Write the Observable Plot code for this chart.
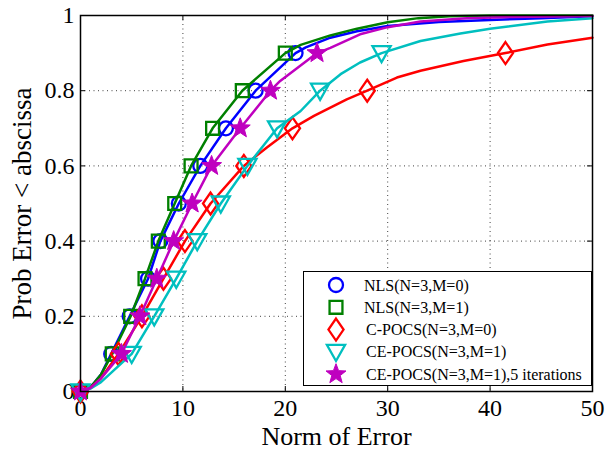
<!DOCTYPE html>
<html><head><meta charset="utf-8">
<script src="https://cdn.jsdelivr.net/npm/d3@7"></script>
<script src="https://cdn.jsdelivr.net/npm/@observablehq/plot@0.6"></script>
<style>
body{margin:0;background:#fff;}
#wrap{position:relative;width:606px;height:450px;}
#legend{position:absolute;left:303px;top:271px;width:289px;height:115px;box-sizing:border-box;border:1.3px solid #000;background:#fff;}
</style></head><body><div id="wrap"></div>
<script>
// ---- data ----
const xTicks = [0, 10, 20, 30, 40, 50];
const yTicks = [0, 0.2, 0.4, 0.6, 0.8, 1];
const yTickLabels = ["0", "0.2", "0.4", "0.6", "0.8", "1"];
const xGrid = [10, 20, 30, 40];
const yGrid = [0.2, 0.4, 0.6, 0.8];
const markerLevels = [0, 0.1, 0.2, 0.3, 0.4, 0.5, 0.6, 0.7, 0.8, 0.9];
const xLabel = "Norm of Error";
const yLabel = "Prob Error < abscissa";

const seriesNames = ["NLS(N=3,M=0)", "NLS(N=3,M=1)", "C-POCS(N=3,M=0)", "CE-POCS(N=3,M=1)", "CE-POCS(N=3,M=1),5 iterations"];
const seriesColors = ["#0000ff", "#008000", "#ff0000", "#00bfbf", "#bf00bf"];

// marker x positions (at markerLevels)
const nlsM0MarkerX   = [0, 3.0, 4.8, 6.6, 7.8, 9.6, 11.7, 14.2, 17.1, 21.0];
const nlsM1MarkerX   = [0, 3.1, 4.9, 6.3, 7.6, 9.2, 10.8, 12.9, 15.8, 20.0];
const cpocsMarkerX   = [0, 3.7, 6.0, 8.1, 10.2, 12.7, 15.95, 20.7, 28.0, 41.5];
const cepocsMarkerX  = [0, 5.0, 7.2, 9.35, 11.4, 13.7, 16.3, 19.2, 23.4, 29.4];
const cepocs5MarkerX = [0, 4.0, 5.8, 7.45, 9.1, 10.9, 12.8, 15.6, 18.55, 23.1];

// CDF curves [x, p]
const nlsM0Line = [[0,0],[1,0.012],[2,0.045],[3.0,0.1],[4.8,0.2],[6.6,0.3],[7.8,0.4],[9.6,0.5],[11.7,0.6],[14.2,0.7],[17.1,0.8],[21.0,0.9],[22,0.915],[24.4,0.941],[27,0.958],[30,0.972],[35,0.983],[40,0.988],[45,0.993],[50,0.998]];
const nlsM1Line = [[0,0],[1,0.012],[2,0.045],[3.1,0.1],[4.9,0.2],[6.3,0.3],[7.6,0.4],[9.2,0.5],[10.8,0.6],[12.9,0.7],[15.8,0.8],[20.0,0.9],[21.5,0.922],[24.4,0.947],[27,0.965],[30,0.982],[33,0.993],[36,0.998],[40,1],[50,1]];
const cpocsLine = [[0,0],[1,0.01],[2,0.035],[3.7,0.1],[6.0,0.2],[8.1,0.3],[10.2,0.4],[12.7,0.5],[15.95,0.6],[18.2,0.649],[20.7,0.7],[22.8,0.733],[26.0,0.777],[28.0,0.8],[30.9,0.835],[33.2,0.853],[37.4,0.879],[41.5,0.9],[45.6,0.923],[50,0.941]];
const cepocsLine = [[0,0],[1,0.008],[2,0.025],[5.0,0.1],[7.2,0.2],[9.35,0.3],[11.4,0.4],[13.7,0.5],[16.3,0.6],[19.2,0.7],[21.5,0.746],[23.4,0.8],[25.4,0.844],[27.3,0.875],[29.4,0.9],[33.2,0.932],[37.1,0.952],[40,0.965],[45.6,0.984],[50,0.993]];
const cepocs5Line = [[0,0],[1,0.01],[2,0.035],[4.0,0.1],[5.8,0.2],[7.45,0.3],[9.1,0.4],[10.9,0.5],[12.8,0.6],[15.6,0.7],[18.55,0.8],[19.5,0.826],[23.1,0.9],[24.4,0.914],[27.3,0.95],[30,0.969],[33.2,0.984],[37.7,0.993],[42.2,0.996],[50,0.999]];

// ---- symbols ----
const rOf = s => Math.sqrt(s / Math.PI);
const symCircle = {draw(c, s){ const r = rOf(s); c.moveTo(r, 0); c.arc(0, 0, r, 0, 2 * Math.PI); c.closePath(); }};
const symSquare = {draw(c, s){ const r = rOf(s) * 0.92; c.moveTo(-r,-r); c.lineTo(r,-r); c.lineTo(r,r); c.lineTo(-r,r); c.closePath(); }};
const symDiamond = {draw(c, s){ const r = rOf(s) * 1.08; const h = r * 1.45; c.moveTo(0,-h); c.lineTo(r,0); c.lineTo(0,h); c.lineTo(-r,0); c.closePath(); }};
const symTriDown = {draw(c, s){ const r = rOf(s); const w = r * 1.3; c.moveTo(-w,-r); c.lineTo(w,-r); c.lineTo(0, r * 1.3); c.closePath(); }};
const symStar = {draw(c, s){ const R = rOf(s) * 1.5, ri = R * 0.42;
  for (let i = 0; i < 10; i++) { const a = -Math.PI/2 + i * Math.PI/5; const rr = i % 2 ? ri : R;
    const px = rr * Math.cos(a), py = rr * Math.sin(a); if (i) c.lineTo(px, py); else c.moveTo(px, py); }
  c.closePath(); }};

const series = [
  {line: nlsM0Line, mx: nlsM0MarkerX, sym: symCircle, filled: false},
  {line: nlsM1Line, mx: nlsM1MarkerX, sym: symSquare, filled: false},
  {line: cpocsLine, mx: cpocsMarkerX, sym: symDiamond, filled: false},
  {line: cepocsLine, mx: cepocsMarkerX, sym: symTriDown, filled: false},
  {line: cepocs5Line, mx: cepocs5MarkerX, sym: symStar, filled: true}
].map((s, i) => ({...s, name: seriesNames[i], color: seriesColors[i]}));

const W = 606, H = 450, mL = 80, mR = 14, mT = 15, mB = 59;
const pw = W - mL - mR, ph = H - mT - mB;
const R0 = 7;

const marks = [
  Plot.ruleX(xGrid, {x: d => d, stroke: "#000", strokeWidth: 1, strokeDasharray: "1,3.5", strokeOpacity: 0.75}),
  Plot.ruleY(yGrid, {y: d => d, stroke: "#000", strokeWidth: 1, strokeDasharray: "1,3.5", strokeOpacity: 0.75}),
  Plot.tickX(xTicks, {x: d => d, insetTop: ph - 5, stroke: "#000"}),
  Plot.tickX(xTicks, {x: d => d, insetBottom: ph - 5, stroke: "#000"}),
  Plot.tickY(yTicks, {y: d => d, insetRight: pw - 5, stroke: "#000"}),
  Plot.tickY(yTicks, {y: d => d, insetLeft: pw - 5, stroke: "#000"})
];
for (const s of series) {
  marks.push(Plot.line(s.line, {x: d => d[0], y: d => d[1], stroke: s.color, strokeWidth: 2.5}));
  marks.push(Plot.dot(s.mx.map((x, j) => ({x, y: markerLevels[j]})), {
    x: "x", y: "y", r: R0, symbol: s.sym, stroke: s.color, strokeWidth: s.filled ? 1 : 2.3,
    fill: s.filled ? s.color : "none"}));
}
marks.push(Plot.frame({stroke: "#000", strokeWidth: 1.5}));
marks.push(Plot.text([xLabel], {frameAnchor: "bottom", lineAnchor: "bottom", textAnchor: "middle", dy: 53, fontSize: 26, fill: "#000"}));
marks.push(Plot.text([yLabel], {frameAnchor: "left", textAnchor: "middle", lineAnchor: "middle", rotate: -90, dx: -58, fontSize: 27, fill: "#000"}));

const chart = Plot.plot({
  width: W, height: H, marginLeft: mL, marginRight: mR, marginTop: mT, marginBottom: mB,
  style: {fontFamily: "Liberation Serif", fontSize: "24px", background: "#fff", color: "#000", overflow: "visible"},
  x: {domain: [0, 50], ticks: xTicks, tickSize: 0, tickPadding: 7, tickFormat: d => String(d), label: null},
  y: {domain: [0, 1], ticks: yTicks, tickSize: 0, tickPadding: 6, tickFormat: d => yTickLabels[yTicks.indexOf(d)], label: null},
  marks
});
const wrap = document.getElementById("wrap");
wrap.appendChild(chart);

// legend
const leg = document.createElement("div");
leg.id = "legend";
wrap.appendChild(leg);
const lsvg = d3.select(leg).append("svg").attr("width", 287).attr("height", 113).style("display", "block");
series.forEach((s, i) => {
  const cy = 13 + i * 22.3;
  lsvg.append("path")
    .attr("d", d3.symbol(s.sym, Math.PI * R0 * R0)())
    .attr("transform", `translate(32,${cy})`)
    .attr("fill", s.filled ? s.color : "none")
    .attr("stroke", s.color)
    .attr("stroke-width", s.filled ? 1 : 2.3);
  lsvg.append("text")
    .attr("x", i < 2 ? 60 : 62).attr("y", cy + 5.5)
    .attr("font-family", "Liberation Serif").attr("font-size", 16)
    .text(s.name);
});
</script></body></html>
